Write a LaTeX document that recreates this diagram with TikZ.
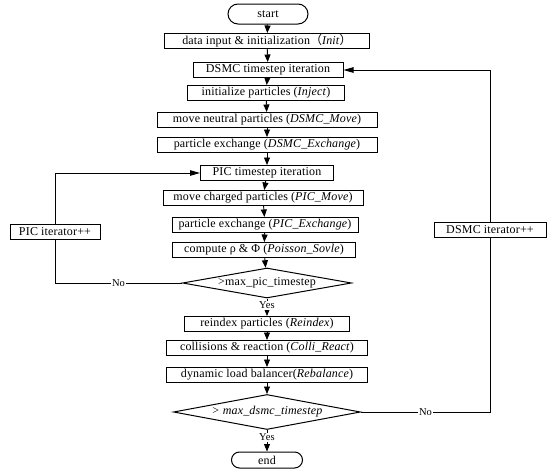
\documentclass[tikz,border=0pt]{standalone}
\usepackage{fontspec}
\setmainfont{Liberation Serif}[LetterSpace=1.5]
\newfontfamily\cjkfont{Noto Sans CJK SC}
\usetikzlibrary{arrows.meta,shapes.geometric}
\begin{document}
\begin{tikzpicture}[x=1pt,y=-1pt,
  font=\fontsize{12}{14}\selectfont,
  box/.style={draw,line width=1pt,minimum height=15pt,inner sep=0pt},
  term/.style={draw,line width=1pt,inner sep=0pt},
  dia/.style={draw,diamond,line width=1pt,inner sep=0pt},
  arr/.style={-{Triangle[length=7.5pt,width=6pt]},line width=0.9pt},
  larr/.style={-{Triangle[length=10pt,width=5.5pt]},line width=0.9pt},
  ln/.style={line width=0.9pt},
  lbl/.style={fill=white,inner sep=1pt,font=\fontsize{10.5}{12}\selectfont}]
\useasboundingbox (0,0) rectangle (550,471);
\node[term,rounded corners=10pt,minimum width=80pt,minimum height=20pt] (start) at (268,14) {start};
\node[box,minimum width=205pt] (init) at (267,41) {data input \& initialization{\cjkfont （}\textit{Init}{\cjkfont ）}};
\node[box,minimum width=150pt] (dsmct) at (268,70) {DSMC timestep iteration};
\node[box,minimum width=157pt] (inject) at (266,93) {initialize particles (\textit{Inject})};
\node[box,minimum width=220pt] (move) at (267,120) {move neutral particles (\textit{DSMC\_Move})};
\node[box,minimum width=220pt] (exch) at (267,145) {particle exchange (\textit{DSMC\_Exchange})};
\node[box,minimum width=133pt] (pict) at (267,173) {PIC timestep iteration};
\node[box,minimum width=200pt] (pmove) at (263,198) {move charged particles (\textit{PIC\_Move})};
\node[box,minimum width=186pt] (pexch) at (265,225) {particle exchange (\textit{PIC\_Exchange})};
\node[box,minimum width=183pt] (pois) at (264,250) {compute ρ \& Φ (\textit{Poisson\_Sovle})};
\node[dia,aspect=5.6,minimum width=169pt,minimum height=30pt] (d1) at (267,283) {>max\_pic\_timestep};
\node[box,minimum width=165pt] (reidx) at (267,324) {reindex particles (\textit{Reindex})};
\node[box,minimum width=201pt] (colli) at (267,348) {collisions \& reaction (\textit{Colli\_React})};
\node[box,minimum width=201pt] (rebal) at (267,375) {dynamic load balancer(\textit{Rebalance})};
\node[dia,aspect=5.3,minimum width=187pt,minimum height=35pt] (d2) at (267,412) {\textit{> max\_dsmc\_timestep}};
\node[term,rounded corners=8pt,minimum width=71pt,minimum height=16pt] (end) at (267,460) {end};
\node[box,minimum width=90pt] (piciter) at (55,232) {PIC iterator++};
\node[box,minimum width=112pt] (dsmciter) at (490,230) {DSMC iterator++};

\draw[arr] (start) -- (init);
\draw[arr] (init) -- (dsmct);
\draw[arr] (dsmct) -- (inject);
\draw[arr] (inject) -- (move);
\draw[arr] (move) -- (exch);
\draw[arr] (exch) -- (pict);
\draw[arr] (pict) -- (pmove);
\draw[arr] (pmove) -- (pexch);
\draw[arr] (pexch) -- (pois);
\draw[arr] (pois) -- (d1);
\draw[arr] (d1) -- node[lbl,pos=0.4]{Yes} (reidx);
\draw[arr] (reidx) -- (colli);
\draw[arr] (colli) -- (rebal);
\draw[arr] (rebal) -- (d2);
\draw[arr] (d2) -- node[lbl,pos=0.35]{Yes} (end);

\draw[ln] (d1.west) -- node[lbl]{No} (d1.west -| piciter.south) -- (piciter.south);
\draw[larr] (piciter.north) |- (pict.west);
\draw[ln] (d2.east) -- node[lbl]{No} (d2.east -| dsmciter.south) -- (dsmciter.south);
\draw[larr] (dsmciter.north) |- (dsmct.east);
\end{tikzpicture}
\end{document}
